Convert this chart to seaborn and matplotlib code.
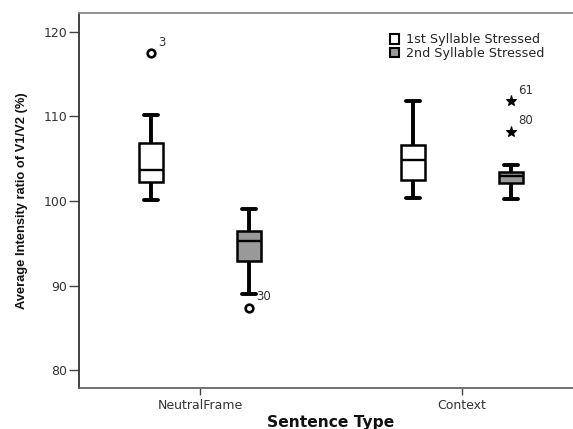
import numpy as np
import pandas as pd
import seaborn as sns
import matplotlib.pyplot as plt
from matplotlib.patches import Patch

sentence_types = ["NeutralFrame", "Context"]
stress_groups = ["1st Syllable Stressed", "2nd Syllable Stressed"]

# Average intensity ratio of V1/V2 (%) per case
neutral_first = [100.1, 102.2, 102.2, 103.7, 103.7, 106.9, 106.9, 110.2, 117.5]
neutral_second = [87.4, 89.0, 92.9, 92.9, 95.3, 95.3, 96.5, 96.5, 99.0]
context_first = [100.4, 102.5, 104.8, 106.6, 111.8]
context_second = [100.2, 102.1, 102.1, 102.1, 102.9, 102.9, 102.9,
                  103.4, 103.4, 103.4, 104.2, 108.2, 111.8]

# case numbers of outlying cases: (sentence type, group, value, case label)
outlier_cases = [
    ("NeutralFrame", "1st Syllable Stressed", 117.5, "3"),
    ("NeutralFrame", "2nd Syllable Stressed", 87.4, "30"),
    ("Context", "2nd Syllable Stressed", 111.8, "61"),
    ("Context", "2nd Syllable Stressed", 108.2, "80"),
]
extreme_labels = ["61", "80"]  # drawn as stars (> 3 IQR)

yticks = [80, 90, 100, 110, 120]

groups = [
    ("NeutralFrame", stress_groups[0], neutral_first),
    ("NeutralFrame", stress_groups[1], neutral_second),
    ("Context", stress_groups[0], context_first),
    ("Context", stress_groups[1], context_second),
]
df = pd.DataFrame(
    [(s, g, v) for s, g, vals in groups for v in vals],
    columns=["Sentence Type", "Stress", "Ratio"],
)

sns.set_theme(style="white")
plt.rcParams["font.family"] = ["DejaVu Sans"]

fig = plt.figure(figsize=(5.73, 4.29), dpi=100)
ax = fig.add_axes([0.138, 0.0956, 0.862, 0.874])

palette = {stress_groups[0]: "white", stress_groups[1]: "#999999"}
sns.boxplot(
    data=df, x="Sentence Type", y="Ratio", hue="Stress",
    order=sentence_types, hue_order=stress_groups, palette=palette,
    saturation=1, width=0.75, gap=0.75, linecolor="black", linewidth=1.8,
    whiskerprops=dict(linewidth=2.8), capprops=dict(linewidth=2.8),
    medianprops=dict(linewidth=1.7),
    flierprops=dict(marker="o", markerfacecolor="none", markeredgecolor="black",
                    markeredgewidth=1.9, markersize=5.5),
    legend=False, ax=ax,
)

# narrower whisker caps
cap_half = 0.026
for line in ax.lines:
    xs, ys = np.asarray(line.get_xdata(), float), np.asarray(line.get_ydata(), float)
    if (len(xs) == 2 and line.get_linewidth() == 2.8
            and ys[0] == ys[1] and xs[0] != xs[1]):
        c = xs.mean()
        line.set_xdata([c - cap_half, c + cap_half])

# restyle extreme cases as stars and add case-number labels
label_for = {(s, round(v, 1)): lab for s, g, v, lab in outlier_cases}
for line in ax.lines:
    if line.get_marker() != "o":
        continue
    xs, ys = line.get_xdata(), line.get_ydata()
    if len(xs) == 0:
        continue
    for x, y in zip(xs, ys):
        stype = sentence_types[int(round(x))]
        lab = label_for.get((stype, round(float(y), 1)))
        if lab is None:
            continue
        if lab in extreme_labels:
            line.set_marker("*")
            line.set_markerfacecolor("black")
            line.set_markeredgewidth(0.8)
            line.set_markersize(8)
        ax.annotate(lab, xy=(x, y), xytext=(5, 3), textcoords="offset points",
                    fontsize=8.5, color="#333333", va="bottom", ha="left")

ax.set_xlim(-0.462, 1.424)
ax.set_ylim(77.9, 122.2)
ax.set_yticks(yticks)
ax.set_yticklabels([str(t) for t in yticks])

for side in ["left", "top", "bottom"]:
    ax.spines[side].set_visible(True)
    ax.spines[side].set_linewidth(1.3)
ax.spines["left"].set_color("#333333")
ax.spines["top"].set_color("#888888")
ax.spines["bottom"].set_color("#666666")
ax.spines["right"].set_visible(False)

ax.tick_params(axis="both", which="both", direction="out", width=1,
               color="#444444", labelsize=9, labelcolor="#333333",
               bottom=True, left=True)
ax.tick_params(axis="y", length=7, pad=1.5)
ax.tick_params(axis="x", length=5, pad=3)

ax.set_ylabel("Average Intensity ratio of V1/V2 (%)",
              family=["Liberation Sans Narrow", "Liberation Sans"],
              fontweight="bold", fontsize=9.3, color="#111111")
ax.yaxis.set_label_coords(-0.103, 0.5)
ax.set_xlabel("Sentence Type", family=["DejaVu Sans"], fontweight="bold",
              fontsize=11.2, color="#111111")
ax.xaxis.set_label_coords(0.51, -0.072)

handles = [Patch(facecolor=palette[g], edgecolor="black", linewidth=1.5)
           for g in stress_groups]
fig.legend(handles, stress_groups, loc="upper left",
           bbox_to_anchor=(0.681, 0.922), frameon=False, fontsize=9.2,
           handlelength=0.72, handleheight=0.75, handletextpad=0.55,
           labelspacing=0.02, borderaxespad=0, borderpad=0)

fig.savefig("out.png", dpi=100)
